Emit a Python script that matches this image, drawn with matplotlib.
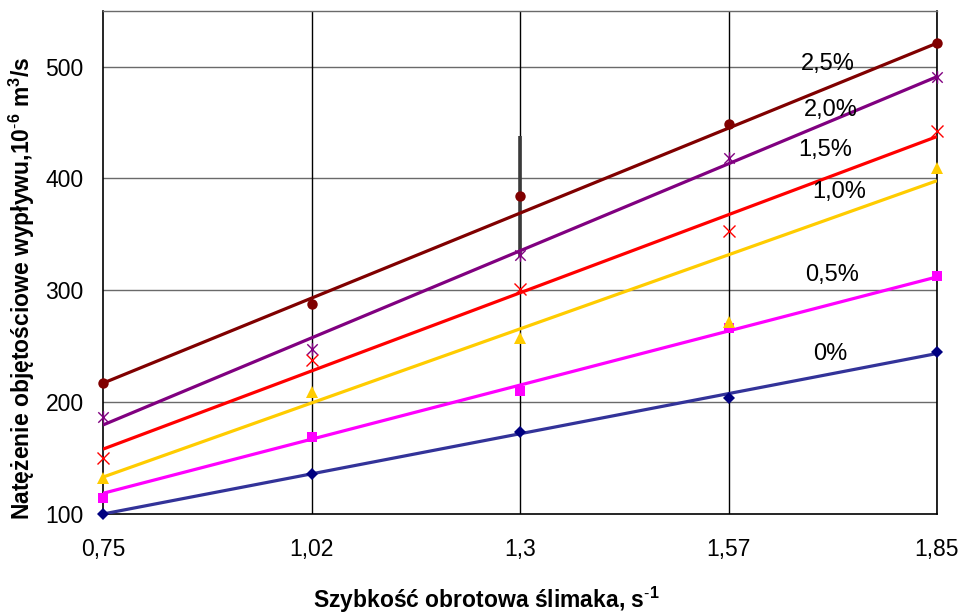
import matplotlib
matplotlib.use("Agg")
import matplotlib.pyplot as plt
import numpy as np
from matplotlib.path import Path

plt.rcParams['font.family'] = ['Liberation Sans', 'DejaVu Sans']
plt.rcParams['mathtext.fontset'] = 'custom'
plt.rcParams['mathtext.rm'] = 'Liberation Sans'
plt.rcParams['mathtext.bf'] = 'Liberation Sans:bold'

# Screw rotational speed categories (s^-1)
speed_labels = ["0,75", "1,02", "1,3", "1,57", "1,85"]

# Volumetric flow rate, 10^-6 m^3/s, for each additive content
flow_0 = [100, 135.8, 173, 203.8, 245]
flow_05 = [114, 169, 210, 266.7, 312.4]
flow_10 = [132, 209, 257.5, 272, 409.6]
flow_15 = [149.8, 237.8, 301, 353, 442.7]
flow_20 = [186.5, 247.7, 331.8, 418.6, 491]
flow_25 = [217, 288, 384, 449, 521]
err_25 = [0, 0, 54, 0, 0]

# Linear trend values at the first and last speed
trend_0 = [100, 243.5]
trend_05 = [118.5, 312]
trend_10 = [133, 398]
trend_15 = [158, 437.5]
trend_20 = [179.6, 491]
trend_25 = [217, 521]

series_names = ["0%", "0,5%", "1,0%", "1,5%", "2,0%", "2,5%"]

# asterisk marker: an X crossed by a vertical bar
star_path = Path(
    [(-1, -1), (1, 1), (-1, 1), (1, -1), (0, -1.2), (0, 1.2)],
    [Path.MOVETO, Path.LINETO, Path.MOVETO, Path.LINETO, Path.MOVETO, Path.LINETO],
)

styles = [
    dict(line="#333399", mfc="#000080", marker="D", ms=6.5, mew=0, hollow=False),
    dict(line="#FF00FF", mfc="#FF00FF", marker="s", ms=7.5, mew=0, hollow=False),
    dict(line="#FFCC00", mfc="#FFCC00", marker="^", ms=9, mew=0, hollow=False),
    dict(line="#FF0000", mfc="#FF0000", marker="x", ms=8.5, mew=1.0, hollow=True),
    dict(line="#800080", mfc="#800080", marker=star_path, ms=9, mew=1.0, hollow=True),
    dict(line="#800000", mfc="#800000", marker="o", ms=7.5, mew=0, hollow=False),
]

label_pos = [(4.486, 243), (4.499, 313.8), (4.53, 388), (4.463, 425.6), (4.493, 461), (4.475, 502.5)]

fig = plt.figure(figsize=(9.68, 6.14), dpi=100)
ax = fig.add_axes([103 / 968, 1 - 514 / 614, (937 - 103) / 968, (514 - 10.7) / 614])

x = np.arange(1, len(speed_labels) + 1)
all_series = [flow_0, flow_05, flow_10, flow_15, flow_20, flow_25]
all_trends = [trend_0, trend_05, trend_10, trend_15, trend_20, trend_25]

# grid
for yv in [200, 300, 400, 500]:
    ax.axhline(yv, color="#6a6a6a", lw=1.0, zorder=1)
for xv in x[1:]:
    ax.axvline(xv, color="#000000", lw=1.0, zorder=1)

# error bar on the 2.5% series
ax.errorbar(x, flow_25, yerr=err_25, fmt="none", ecolor="#3a3a3a", elinewidth=2.6, capsize=0, zorder=2)

for vals, trend, st, name, (lx, ly) in zip(all_series, all_trends, styles, series_names, label_pos):
    ax.plot([x[0], x[-1]], trend, color=st["line"], lw=2.3, zorder=3, solid_capstyle="butt")
    if st["hollow"]:
        ax.plot(x, vals, linestyle="none", marker=st["marker"], ms=st["ms"],
                mec=st["mfc"], mfc="none", mew=st["mew"], zorder=4, clip_on=False)
    else:
        ax.plot(x, vals, linestyle="none", marker=st["marker"], ms=st["ms"],
                mfc=st["mfc"], mec=st["mfc"], mew=st["mew"], zorder=4, clip_on=False)
    ax.text(lx, ly, name, fontsize=17, ha="center", va="center", color="black", zorder=5)

ax.set_xlim(1, 5)
ax.set_ylim(100, 550)
ax.set_xticks(x)
ax.set_xticklabels(speed_labels)
ax.set_yticks([100, 200, 300, 400, 500])
ax.tick_params(axis="both", length=0, labelsize=16.5)
ax.tick_params(axis="x", pad=17)
ax.tick_params(axis="y", pad=14)

for side in ["left", "bottom", "right"]:
    ax.spines[side].set_color("black")
    ax.spines[side].set_linewidth(1.2)
ax.spines["top"].set_color("#6a6a6a")
ax.spines["top"].set_linewidth(1.0)

fig.text(486 / 968, 1 - 600 / 614, r"Szybkość obrotowa ślimaka, s$^{\mathbf{\text{-}1}}$",
         fontsize=16.5, fontweight="bold", ha="center", va="center")
fig.text(22 / 968, 1 - 288 / 614,
         r"Natężenie objętościowe wypływu,10$^{\mathbf{\text{-}6}}$ m$^{\mathbf{3}}$/s",
         fontsize=16.5, fontweight="bold", ha="center", va="center", rotation=90)

fig.savefig("out.png", dpi=100)
